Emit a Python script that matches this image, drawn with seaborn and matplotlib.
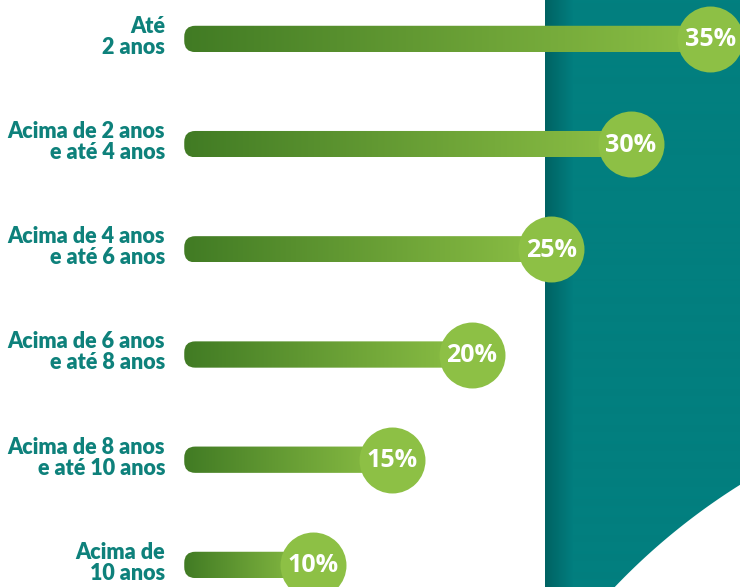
import numpy as np
import pandas as pd
import matplotlib.pyplot as plt
import matplotlib.colors as mcolors
from matplotlib.patches import PathPatch, FancyBboxPatch
from matplotlib.path import Path
from matplotlib.transforms import IdentityTransform
import seaborn as sns

# data
faixas = ['Até\n2 anos',
          'Acima de 2 anos\ne até 4 anos',
          'Acima de 4 anos\ne até 6 anos',
          'Acima de 6 anos\ne até 8 anos',
          'Acima de 8 anos\ne até 10 anos',
          'Acima de\n10 anos']
percentuais = [35, 30, 25, 20, 15, 10]
rotulos = ['35%', '30%', '25%', '20%', '15%', '10%']

# style
TEAL = '#027f7f'
TEAL_DARK = '#006263'
LABEL_COLOR = '#0e817b'
GREEN_DARK = '#417b24'
GREEN_LIGHT = '#8dc045'
W, H = 740, 587
BAR_H = 0.25
BAR_START = 1.9
LABEL_X = 0.7
XLIM = (-9.69, 36.86)
YLIM = (5.21, -0.37)

sns.set_style('white')
plt.rcParams['font.family'] = ['Open Sans', 'DejaVu Sans']

fig = plt.figure(figsize=(W / 100, H / 100), dpi=100)

# teal panel on the right, in pixel coordinates
bg = fig.add_axes([0, 0, 1, 1])
bg.set_xlim(0, W)
bg.set_ylim(H, 0)
bg.axis('off')
left = 545
cx, cy, r = 1087, 1038, 653
ya = cy - np.sqrt(r ** 2 - (W - cx) ** 2)
xb = cx - np.sqrt(r ** 2 - (H - cy) ** 2)
t = np.linspace(np.arctan2(ya - cy, W - cx), np.arctan2(H - cy, xb - cx), 60)
arc = np.column_stack([cx + r * np.cos(t), cy + r * np.sin(t)])
verts = np.vstack([[left, 0], [W, 0], arc, [left, H], [left, 0]])
panel = PathPatch(Path(verts, closed=True), facecolor='none', edgecolor='none')
bg.add_patch(panel)
teal_cmap = mcolors.LinearSegmentedColormap.from_list('teal', [TEAL_DARK, TEAL])
xs = np.arange(left, W)
shade = np.clip((xs - left) / 28.0, 0, 1)[None, :]
im = bg.imshow(shade, extent=(left, W, H, 0), cmap=teal_cmap, aspect='auto',
               vmin=0, vmax=1, interpolation='bilinear')
im.set_clip_path(panel)
bg.set_xlim(0, W)
bg.set_ylim(H, 0)

# main chart
ax = fig.add_axes([0, 0, 1, 1])
ax.patch.set_alpha(0)
df = pd.DataFrame({'faixa': faixas, 'pct': percentuais})
sns.barplot(data=df, x='pct', y='faixa', orient='h', width=BAR_H,
            color=GREEN_LIGHT, ax=ax)
ax.set_xlim(*XLIM)
ax.set_ylim(*YLIM)

green_cmap = mcolors.LinearSegmentedColormap.from_list('green', [GREEN_DARK, GREEN_LIGHT])
grad = np.linspace(0, 1, 256)[None, :]
for p in list(ax.patches):
    y0, h, x1 = p.get_y(), p.get_height(), p.get_width()
    p.set_visible(False)
    (px0, py0) = ax.transData.transform((BAR_START, y0 + h))
    (px1, py1) = ax.transData.transform((x1, y0))
    clip = FancyBboxPatch((px0, py0), px1 - px0, py1 - py0,
                          boxstyle='round,pad=0,rounding_size=11',
                          transform=IdentityTransform())
    g = ax.imshow(grad, extent=(BAR_START, x1, y0 + h, y0), cmap=green_cmap,
                  aspect='auto', zorder=2)
    g.set_clip_path(clip)

pos = np.arange(len(faixas))
sns.scatterplot(x=percentuais, y=pos, s=2256, color=GREEN_LIGHT, linewidth=0,
                ax=ax, zorder=3, legend=False)

for i, (v, lbl) in enumerate(zip(percentuais, rotulos)):
    ax.text(v, i + 0.01, lbl, ha='center', va='center', color='white',
            fontsize=18, fontweight='bold', zorder=4)

for i, f in enumerate(faixas):
    ax.text(LABEL_X, i - 0.02, f, ha='right', va='center', multialignment='right',
            color=LABEL_COLOR, fontsize=15.5, fontweight='heavy',
            family=['Lato', 'DejaVu Sans'], linespacing=1.0)

ax.set_xlim(*XLIM)
ax.set_ylim(*YLIM)
ax.axis('off')

fig.savefig('out.png', dpi=100)
